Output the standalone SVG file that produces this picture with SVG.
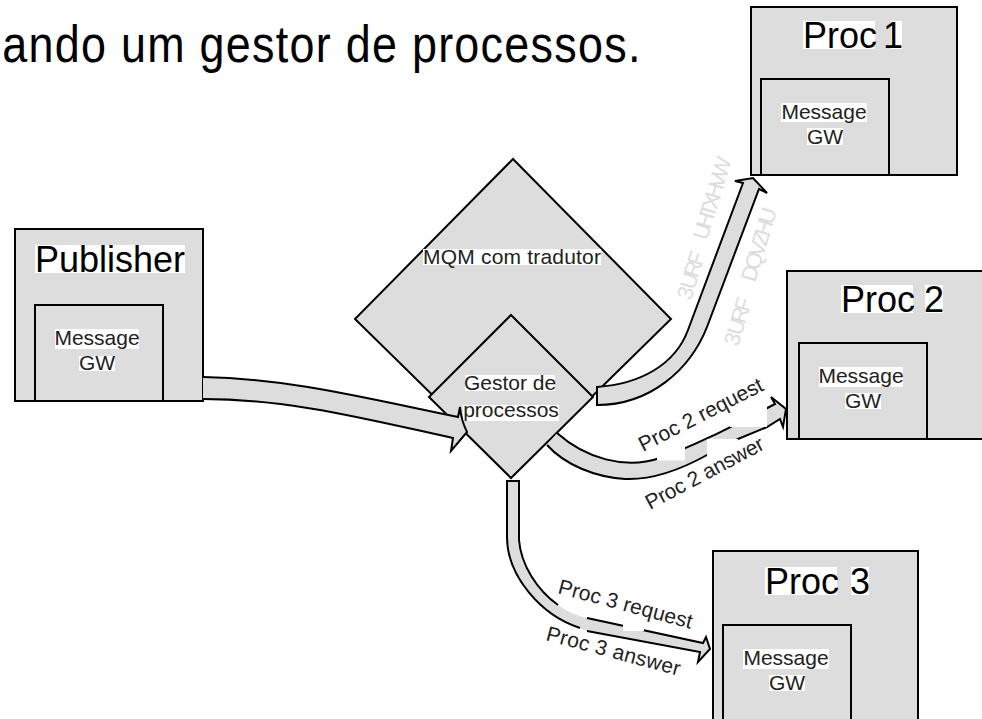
<svg xmlns="http://www.w3.org/2000/svg" width="982" height="719" viewBox="0 0 982 719">
<style>
text{font-family:"Liberation Sans",Arial,sans-serif;fill:#000}
.box{fill:#ddd;stroke:#000;stroke-width:2}
.hl{fill:#fff;stroke:none}
.t{font-size:36px}
.s{font-size:21px;text-anchor:middle;fill:#222}
.l{font-size:21px;fill:#222}
.g{font-size:22px;fill:#ddd}
.af{fill:#ddd;stroke:none}
.as{fill:none;stroke:#000;stroke-width:2}
.w{fill:#fff;stroke:none}
</style>
<rect width="982" height="719" fill="#fff"/>
<text transform="translate(-24 62) scale(.88 1)" font-size="51" textLength="755">nando um gestor de processos.</text>
<g id="publisher">
<rect class="box" x="15" y="229" width="188" height="172"/>
<rect class="box" x="35" y="305" width="128" height="96"/>
<rect class="hl" x="35" y="245" width="150" height="28"/>
<text class="t" x="35" y="272" textLength="150">Publisher</text>
<rect class="hl" x="55" y="329" width="84" height="20"/>
<text class="s" x="97" y="345">Message</text>
<rect class="hl" x="79" y="356" width="36" height="15"/>
<text class="s" x="97" y="370">GW</text>
</g>
<g id="proc1">
<rect class="box" x="751" y="7" width="206" height="168"/>
<rect class="box" x="761" y="79" width="128" height="96"/>
<rect class="hl" x="803" y="21" width="72" height="28"/>
<rect class="hl" x="891" y="21" width="11" height="28"/>
<text class="t" x="803" y="48">Proc</text>
<text class="t" x="883" y="48">1</text>
<rect class="hl" x="781" y="103" width="86" height="19"/>
<text class="s" x="824" y="119">Message</text>
<rect class="hl" x="807" y="128" width="36" height="17"/>
<text class="s" x="825" y="144">GW</text>
</g>
<g id="proc2">
<rect class="box" x="787" y="271" width="197" height="168"/>
<rect class="box" x="799" y="343" width="128" height="96"/>
<rect class="hl" x="841" y="285" width="72" height="28"/>
<rect class="hl" x="925" y="285" width="18" height="28"/>
<text class="t" x="841" y="312">Proc</text>
<text class="t" x="924" y="312">2</text>
<rect class="hl" x="819" y="367" width="84" height="20"/>
<text class="s" x="861" y="383">Message</text>
<rect class="hl" x="845" y="393" width="36" height="16"/>
<text class="s" x="863" y="408">GW</text>
</g>
<g id="proc3">
<rect class="box" x="713" y="551" width="205" height="170"/>
<rect class="box" x="723" y="625" width="128" height="96"/>
<rect class="hl" x="765" y="567" width="72" height="28"/>
<rect class="hl" x="851" y="567" width="18" height="28"/>
<text class="t" x="765" y="594">Proc</text>
<text class="t" x="850" y="594">3</text>
<rect class="hl" x="743" y="649" width="86" height="20"/>
<text class="s" x="786" y="665">Message</text>
<rect class="hl" x="769" y="675" width="36" height="16"/>
<text class="s" x="787" y="690">GW</text>
</g>
<g id="mqm">
<polygon class="box" points="513,159 671,319 513,474 355,319"/>
<rect class="hl" x="423" y="249" width="178" height="16"/>
<text class="l" x="423" y="264" textLength="178">MQM com tradutor</text>
</g>
<g id="gestor">
<polygon class="box" points="511,315 593,397 511,478 429,397"/>
<rect class="hl" x="465" y="375" width="90" height="16"/>
<rect class="hl" x="463" y="405" width="96" height="16"/>
<text class="s" x="510" y="390">Gestor de</text>
<text class="s" x="511" y="417">processos</text>
</g>
<g id="connectors">
<path class="af" d="M203 377C290 379 360 397 458 417L460 407Q461 420 467 432L451 451L453 438C370 420 290 399 203 399Z"/>
<path class="as" d="M203 377C290 379 360 397 458 417L460 407Q461 420 467 432L451 451L453 438C370 420 290 399 203 399"/>
<path class="af" d="M597 387C640 384 675 365 688 330L743 183L735 181L753 178L767 193L759 189L707 327C690 370 650 405 597 405Z"/>
<path class="as" d="M597 387C640 384 675 365 688 330L743 183L735 181L753 178L767 193L759 189L707 327C690 370 650 405 597 405Z"/>
<path class="af" d="M557 433C585 458 625 470 660 458C700 444 740 422 775 404L771 397L786 409L783 427L780 419L767 427L738 439L707 455C680 470 650 480 625 479C595 477 565 465 547 445Z"/>
<path class="as" d="M557 433C585 458 625 470 660 458C700 444 740 422 775 404L771 397L786 409L783 427L780 419L767 427L738 439L707 455C680 470 650 480 625 479C595 477 565 465 547 445"/>
<rect class="w" x="657" y="440" width="28" height="20.500"/>
<rect class="w" x="730" y="400" width="37" height="27"/>
<rect class="w" x="707" y="439" width="31" height="18"/>
<path class="af" d="M507 481H519V540C521 565 537 590 558 605C568 612 578 616 587 618L703 643L706 637L710 649L698 662L700 652L587 631L580 628C540 615 507 575 507 537Z"/>
<path class="as" d="M558 605C537 590 521 565 519 540V481H507V537C507 575 540 615 580 628M587 631L700 652L698 662L710 649L706 637L703 643L587 618"/>
<rect class="w" x="623" y="624" width="21" height="7"/>
<text class="l" transform="translate(643 452) rotate(-27)" textLength="137">Proc 2 request</text>
<text class="l" transform="translate(650 510) rotate(-28)" textLength="131">Proc 2 answer</text>
<text class="l" transform="translate(557 593) rotate(15)" textLength="138">Proc 3 request</text>
<text class="l" transform="translate(545 640) rotate(15)" textLength="138">Proc 3 answer</text>
<text class="g" transform="translate(691 301) rotate(-73)" textLength="49">3 URF</text>
<text class="g" transform="translate(707 241) rotate(-73)" textLength="85">UHTXHVW</text>
<text class="g" transform="translate(738 347) rotate(-73)" textLength="49">3 URF</text>
<text class="g" transform="translate(755 283) rotate(-73)" textLength="76">DQVZHU</text>
</g>
</svg>
